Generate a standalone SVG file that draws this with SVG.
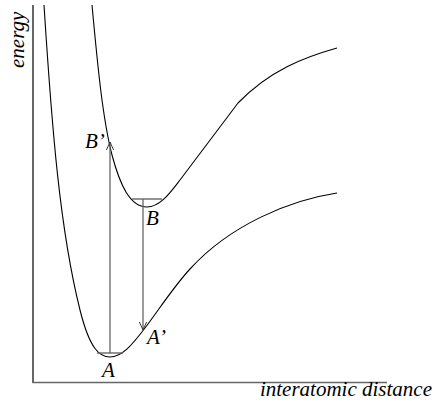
<svg xmlns="http://www.w3.org/2000/svg" width="434" height="410" viewBox="0 0 434 410">
<style>
text{font-family:"Liberation Serif","Times New Roman",serif;font-style:italic;font-size:21px;fill:#000}
.curve{fill:none;stroke:#000;stroke-width:1.1}
.lvl{stroke:#666;stroke-width:1.4}
.arr{stroke:#666;stroke-width:1.3;fill:none}
</style>
<defs>
<marker id="ah" viewBox="0 0 10 10" refX="10" refY="5" markerWidth="8" markerHeight="8" markerUnits="userSpaceOnUse" orient="auto">
<path d="M0,0.5 L10,5 L0,9.5" fill="none" stroke="#333" stroke-width="1.2"/>
</marker>
</defs>
<g id="axes">
<line x1="33" y1="5" x2="33" y2="383" stroke="#000" stroke-width="1.2"/>
<line x1="32.5" y1="382.5" x2="387" y2="382.5" stroke="#666" stroke-width="1.5"/>
<text transform="translate(24,68) rotate(-90)">energy</text>
<text x="432" y="396" text-anchor="end">interatomic distance</text>
</g>
<g id="ground-curve">
<path class="curve" d="M44,5 C52,130 60,230 80,310 C90,350 100,357 110,357 C122,357 132,345 145,328 C160,308 175,285 190,269 C230,225 290,200 337,193"/>
<line class="lvl" x1="97" y1="353" x2="123" y2="353"/>
<text x="102" y="377">A</text>
<text x="147" y="344">A’</text>
</g>
<g id="excited-curve">
<path class="curve" d="M92,5 C98,70 103,120 112,155 C120,185 130,207 147,207 C160,207 170,193 180,180 L238,103 C270,70 305,57 337,48"/>
<line class="lvl" x1="132" y1="199" x2="162" y2="199"/>
<text x="146" y="225">B</text>
<text x="85" y="148">B’</text>
</g>
<g id="connectors">
<line class="arr" x1="110" y1="353" x2="110" y2="142" marker-end="url(#ah)"/>
<line class="arr" x1="143" y1="199" x2="143" y2="330" marker-end="url(#ah)"/>
</g>
</svg>
